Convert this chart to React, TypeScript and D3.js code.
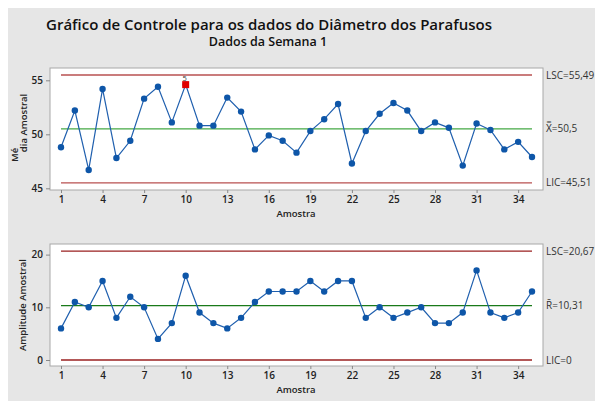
import React, { useEffect, useRef } from 'react'
import * as d3 from 'd3'

const samples = d3.range(1, 36)
const means = [48.8, 52.2, 46.7, 54.2, 47.8, 49.4, 53.3, 54.4, 51.1, 54.6, 50.8, 50.8, 53.4, 52.1, 48.6, 49.9, 49.4, 48.3, 50.3, 51.4, 52.8, 47.3, 50.3, 51.9, 52.9, 52.2, 50.3, 51.1, 50.6, 47.1, 51.0, 50.4, 48.6, 49.3, 47.9]
const ranges = [6, 11, 10, 15, 8, 12, 10, 4, 7, 16, 9, 7, 6, 8, 11, 13, 13, 13, 15, 13, 15, 15, 8, 10, 8, 9, 10, 7, 7, 9, 17, 9, 8, 9, 13]
const xTicks = [1, 4, 7, 10, 13, 16, 19, 22, 25, 28, 31, 34]
const meanTicks = [45, 50, 55]
const rangeTicks = [0, 10, 20]
const meanLimits = { lsc: 55.49, center: 50.5, lic: 45.51 }
const rangeLimits = { lsc: 20.67, center: 10.31, lic: 0 }
const meanLabels = ['LSC=55,49', 'X\u033F=50,5', 'LIC=45,51']
const rangeLabels = ['LSC=20,67', 'R\u0304=10,31', 'LIC=0']
const flagged = [{ sample: 10, rule: '5' }]

const FONT = '"Open Sans", "Noto Sans", sans-serif'

const App = () => {
  const ref = useRef<SVGSVGElement>(null)

  useEffect(() => {
    const svg = d3.select(ref.current)
    svg.selectAll('*').remove()

    svg.append('rect').attr('x', 8).attr('y', 8).attr('width', 587).attr('height', 393).attr('fill', '#e6e6e6')

    svg.append('text').attr('x', 269).attr('y', 30).attr('text-anchor', 'middle')
      .style('font-family', FONT).style('font-size', '15px').style('font-weight', 600).attr('fill', '#111')
      .text('Gráfico de Controle para os dados do Diâmetro dos Parafusos')
    svg.append('text').attr('x', 268).attr('y', 46).attr('text-anchor', 'middle')
      .style('font-family', FONT).style('font-size', '12.5px').style('font-weight', 600).attr('fill', '#111')
      .text('Dados da Semana 1')

    const left = 50, right = 543
    const x = d3.scaleLinear().domain([1, 35]).range([61, 532])
    const xd = d3.scaleLinear().domain([x.invert(left), x.invert(right)]).range([left, right])

    const panel = (top: number, bottom: number, y: d3.ScaleLinear<number, number>, values: number[],
      ticks: number[], limits: { lsc: number, center: number, lic: number }, labels: string[],
      limitColor: string, centerColor: string) => {
      const g = svg.append('g')
      g.append('rect').attr('x', left).attr('y', top).attr('width', right - left).attr('height', bottom - top)
        .attr('fill', '#fff').attr('stroke', '#a8a8a8').attr('stroke-width', 1)

      const ay = g.append('g').attr('transform', `translate(${left},0)`)
        .call(d3.axisLeft(y).tickValues(ticks).tickSize(4).tickPadding(3))
      ay.select('.domain').remove()
      ay.selectAll('line').attr('stroke', '#888')
      ay.selectAll('text').style('font-family', FONT).style('font-size', '10px').style('font-weight', 600).attr('fill', '#222')

      const ax = g.append('g').attr('transform', `translate(0,${bottom})`)
        .call(d3.axisBottom(xd).tickValues(xTicks).tickSize(3).tickPadding(3).tickFormat(d3.format('d')))
      ax.select('.domain').remove()
      ax.selectAll('line').attr('stroke', '#888')
      ax.selectAll('text').style('font-family', FONT).style('font-size', '10px').style('font-weight', 600).attr('fill', '#222')

      g.append('text').attr('x', 296).attr('y', bottom + 27).attr('text-anchor', 'middle')
        .style('font-family', FONT).style('font-size', '9.5px').style('font-weight', 600).attr('fill', '#222')
        .text('Amostra')

      const lines = [
        { v: limits.lsc, c: limitColor, w: 1.3 },
        { v: limits.center, c: centerColor, w: 1.3 },
        { v: limits.lic, c: limitColor, w: 1.3 },
      ]
      g.selectAll('line.lim').data(lines).enter().append('line').attr('class', 'lim')
        .attr('x1', x(1)).attr('x2', x(35))
        .attr('y1', (d) => y(d.v)).attr('y2', (d) => y(d.v))
        .attr('stroke', (d) => d.c).attr('stroke-width', (d) => d.w)

      g.selectAll('text.lab').data(lines).enter().append('text').attr('class', 'lab')
        .attr('x', right + 3).attr('y', (d) => y(d.v)).attr('dy', '0.35em')
        .style('font-family', FONT).style('font-size', '10px').attr('fill', '#333')
        .text((_, i) => labels[i])

      const line = d3.line<number>().x((_, i) => x(samples[i])).y((d) => y(d))
      g.append('path').datum(values).attr('d', line).attr('fill', 'none').attr('stroke', '#1f5fae').attr('stroke-width', 1.2)
      g.selectAll('circle').data(values).enter().append('circle')
        .attr('cx', (_, i) => x(samples[i])).attr('cy', (d) => y(d)).attr('r', 3.2).attr('fill', '#0e56a8')
      return g
    }

    const yMean = d3.scaleLinear().domain([45, 55]).range([188.3, 80.3])
    const gm = panel(68, 190, yMean, means, meanTicks, meanLimits, meanLabels, '#b85050', '#45a845')
    flagged.forEach((f) => {
      const cx = x(f.sample), cy = yMean(means[f.sample - 1])
      gm.append('rect').attr('x', cx - 3.5).attr('y', cy - 3.5).attr('width', 7).attr('height', 7).attr('fill', '#e00000')
      gm.append('text').attr('x', cx - 1).attr('y', cy - 3.8).attr('text-anchor', 'middle')
        .style('font-family', FONT).style('font-size', '7.5px').attr('fill', '#333').text(f.rule)
    })

    const yRange = d3.scaleLinear().domain([0, 20]).range([360, 254.6])
    panel(244, 366, yRange, ranges, rangeTicks, rangeLimits, rangeLabels, '#9a2020', '#1a7a1a')

    const ylab = (tx: number, ty: number, s: string) =>
      svg.append('text').attr('transform', `translate(${tx},${ty}) rotate(-90)`).attr('text-anchor', 'middle')
        .style('font-family', FONT).style('font-size', '9.5px').style('font-weight', 600).attr('fill', '#222').text(s)
    ylab(18, 155, 'Mé')
    ylab(27, 123, 'dia Amostral')
    ylab(26, 305, 'Amplitude Amostral')
  }, [])

  return (
    <div style={{ position: 'absolute', left: 0, top: 0 }}>
      <svg ref={ref} width={595} height={401} style={{ display: 'block' }}></svg>
    </div>
  )
}

export default App
